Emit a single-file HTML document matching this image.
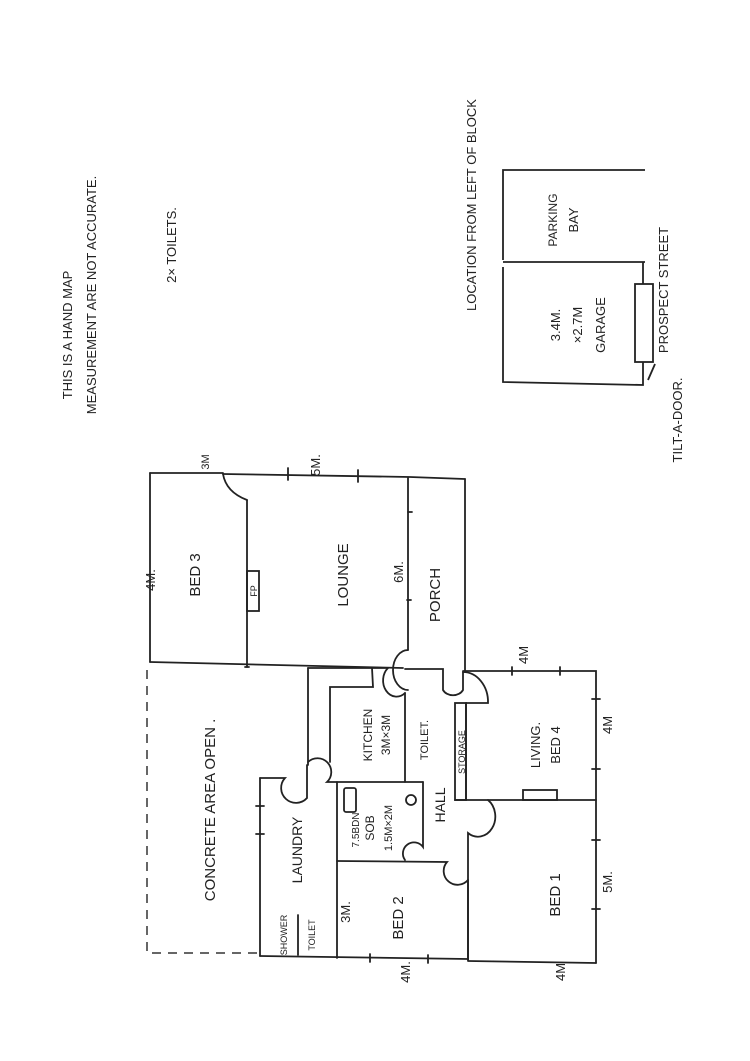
<!DOCTYPE html>
<html><head><meta charset="utf-8"><style>
html,body{margin:0;padding:0;background:#fff}
svg{display:block}
text{font-family:"Liberation Sans",sans-serif;fill:#222}
</style></head><body>
<svg width="750" height="1061" viewBox="0 0 750 1061" xmlns="http://www.w3.org/2000/svg">
<rect width="750" height="1061" fill="#fff"/>
<g stroke="#222" stroke-width="1.8" fill="none" stroke-linecap="round">
<!-- top walls -->
<path d="M150 473 L223 473"/>
<path d="M223 474 Q226 492 247 500"/>
<path d="M223 474 L410 477 L465 479"/>
<!-- bed3 -->
<path d="M150 473 L150 662"/>
<path d="M247 500 L247 667"/>
<path d="M150 662 L403 668"/>
<rect x="247" y="571" width="12" height="40"/>
<!-- porch -->
<path d="M408 478 L408 650"/>
<path d="M408 650 A9 12 0 0 0 408 690"/>
<path d="M465 479 L465 672"/>
<path d="M405 669 L443 669 L443 690 A11 9 0 0 0 463 690 L463 672"/>
<!-- living -->
<path d="M463 671 L596 671 L596 963"/>
<path d="M463 672 A25 30 0 0 1 488 703 L466 703"/>
<path d="M466 703 L466 800"/>
<rect x="455" y="703" width="11" height="97"/>
<path d="M455 800 L596 800"/>
<rect x="523" y="790" width="34" height="10"/>
<!-- bed1 -->
<path d="M488 800 A12 14 0 0 1 468 833 L468 960"/>
<path d="M468 961 L596 963"/>
<!-- kitchen -->
<path d="M308 668 L308 765"/>
<path d="M308 668 L388 668"/>
<path d="M388 668 A10 12 0 0 0 405 693"/>
<path d="M405 693 L405 782"/>
<path d="M330 762 L330 687 L373 687 L372 668"/>
<path d="M308 762 A12 12 0 0 1 327 782 L423 782"/>
<!-- laundry -->
<path d="M260 778 L285 778 A12 12 0 0 0 307 798 L307 765"/>
<path d="M260 778 L260 956"/>
<path d="M337 782 L337 958"/>
<path d="M298 915 L298 955"/>
<!-- SOB -->
<path d="M423 782 L423 847 A10 10 0 0 0 405 860"/>
<path d="M337 861 L447 862 A10 10 0 0 0 468 880"/>
<rect x="344" y="788" width="12" height="24" rx="2"/>
<circle cx="411" cy="800" r="5"/>
<path d="M468 880 L468 960"/>
<path d="M260 956 L468 959"/>
<!-- ticks -->
<path d="M288 468 L288 480 M358 470 L358 482 M408 512 L412 512 M407 600 L411 600 M512 667 L512 675 M560 667 L560 675 M592 699 L600 699 M592 769 L600 769 M592 840 L600 840 M592 909 L600 909 M370 954 L370 962 M428 955 L428 963 M256 806 L264 806 M256 834 L264 834 M245 667 L249 667"/>
</g>
<!-- dashed concrete -->
<path d="M147 670 L147 953 L260 953" stroke="#333" stroke-width="1.5" fill="none" stroke-dasharray="9 7"/>
<!-- garage -->
<g stroke="#222" stroke-width="1.8" fill="none">
<path d="M645 170 L503 170 L503 260"/>
<path d="M503 262 L645 262"/>
<path d="M503 267 L503 382 L643 385 L643 362"/>
<path d="M643 262 L643 284"/>
<rect x="635" y="284" width="18" height="78"/>
<path d="M655 364 L648 380"/>
</g>
<g font-size="13">
<text transform="translate(72,335) rotate(-90)" text-anchor="middle">THIS IS A HAND MAP</text>
<text transform="translate(96,295) rotate(-90)" text-anchor="middle">MEASUREMENT ARE NOT ACCURATE.</text>
<text transform="translate(176,245) rotate(-90)" text-anchor="middle">2× TOILETS.</text>
<text transform="translate(476,205) rotate(-90)" text-anchor="middle">LOCATION FROM LEFT OF BLOCK</text>
<text transform="translate(557,220) rotate(-90)" text-anchor="middle" font-size="12">PARKING</text>
<text transform="translate(578,220) rotate(-90)" text-anchor="middle">BAY</text>
<text transform="translate(560,325) rotate(-90)" text-anchor="middle">3.4M.</text>
<text transform="translate(582,325) rotate(-90)" text-anchor="middle">×2.7M</text>
<text transform="translate(605,325) rotate(-90)" text-anchor="middle">GARAGE</text>
<text transform="translate(668,290) rotate(-90)" text-anchor="middle">PROSPECT STREET</text>
<text transform="translate(682,420) rotate(-90)" text-anchor="middle">TILT-A-DOOR.</text>
<text transform="translate(155,580) rotate(-90)" text-anchor="middle">4M.</text>
<text transform="translate(209,462) rotate(-90)" text-anchor="middle" font-size="11">3M</text>
<text transform="translate(320,465) rotate(-90)" text-anchor="middle">5M.</text>
<text transform="translate(403,572) rotate(-90)" text-anchor="middle">6M.</text>
<text transform="translate(528,655) rotate(-90)" text-anchor="middle">4M</text>
<text transform="translate(612,725) rotate(-90)" text-anchor="middle">4M</text>
<text transform="translate(612,882) rotate(-90)" text-anchor="middle">5M.</text>
<text transform="translate(410,972) rotate(-90)" text-anchor="middle">4M.</text>
<text transform="translate(565,972) rotate(-90)" text-anchor="middle">4M</text>
<text transform="translate(350,912) rotate(-90)" text-anchor="middle">3M.</text>
<text transform="translate(200,575) rotate(-90)" text-anchor="middle" font-size="15">BED 3</text>
<text transform="translate(348,575) rotate(-90)" text-anchor="middle" font-size="15">LOUNGE</text>
<text transform="translate(440,595) rotate(-90)" text-anchor="middle" font-size="15">PORCH</text>
<text transform="translate(215,810) rotate(-90)" text-anchor="middle" font-size="15">CONCRETE AREA OPEN .</text>
<text transform="translate(372,735) rotate(-90)" text-anchor="middle" font-size="12">KITCHEN</text>
<text transform="translate(390,735) rotate(-90)" text-anchor="middle" font-size="12">3M×3M</text>
<text transform="translate(428,740) rotate(-90)" text-anchor="middle" font-size="11">TOILET.</text>
<text transform="translate(445,805) rotate(-90)" text-anchor="middle" font-size="14">HALL</text>
<text transform="translate(465,752) rotate(-90)" text-anchor="middle" font-size="9">STORAGE</text>
<text transform="translate(540,745) rotate(-90)" text-anchor="middle" font-size="13">LIVING.</text>
<text transform="translate(560,745) rotate(-90)" text-anchor="middle" font-size="13">BED 4</text>
<text transform="translate(302,850) rotate(-90)" text-anchor="middle" font-size="14">LAUNDRY</text>
<text transform="translate(359,830) rotate(-90)" text-anchor="middle" font-size="10">7.5BDN</text>
<text transform="translate(374,828) rotate(-90)" text-anchor="middle" font-size="12">SOB</text>
<text transform="translate(392,828) rotate(-90)" text-anchor="middle" font-size="11">1.5M×2M</text>
<text transform="translate(287,935) rotate(-90)" text-anchor="middle" font-size="9">SHOWER</text>
<text transform="translate(315,935) rotate(-90)" text-anchor="middle" font-size="9">TOILET</text>
<text transform="translate(403,918) rotate(-90)" text-anchor="middle" font-size="15">BED 2</text>
<text transform="translate(560,895) rotate(-90)" text-anchor="middle" font-size="15">BED 1</text>
<text transform="translate(257,591) rotate(-90)" text-anchor="middle" font-size="9">FP</text>
</g>
</svg>
</body></html>
